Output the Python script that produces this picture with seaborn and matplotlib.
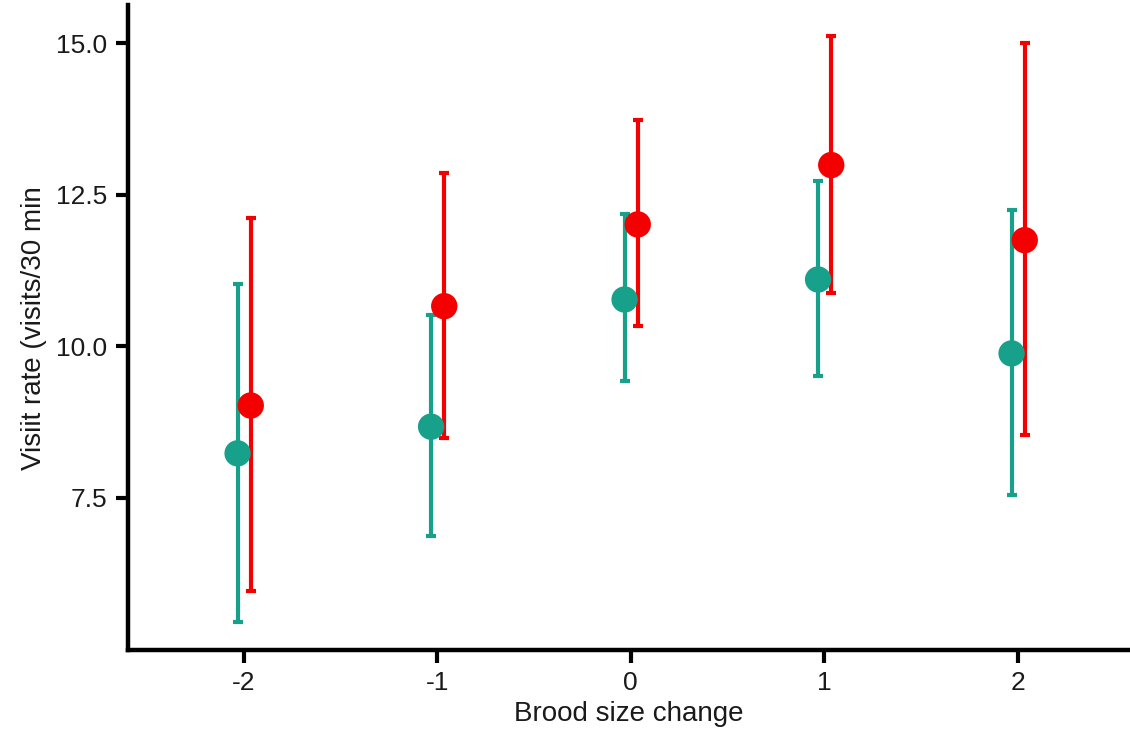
import matplotlib
matplotlib.use("Agg")
import matplotlib.pyplot as plt
import numpy as np
import pandas as pd
import seaborn as sns

# Brood size manipulation vs. provisioning visit rate, two groups
brood_change = [-2, -1, 0, 1, 2]

teal_mean = [8.23, 8.67, 10.77, 11.10, 9.88]
teal_low = [5.45, 6.87, 9.42, 9.50, 7.55]
teal_high = [11.02, 10.52, 12.19, 12.72, 12.24]

red_mean = [9.02, 10.66, 12.01, 12.99, 11.75]
red_low = [5.96, 8.48, 10.33, 10.87, 8.54]
red_high = [12.11, 12.86, 13.73, 15.12, 15.00]

groups = ["A", "B"]
colors = {"A": "#17a08a", "B": "#f50000"}
dodge = {"A": -0.032, "B": 0.036}

frames = []
for g, m, lo, hi in [("A", teal_mean, teal_low, teal_high),
                     ("B", red_mean, red_low, red_high)]:
    frames.append(pd.DataFrame({"change": brood_change, "rate": m,
                                "low": lo, "high": hi, "group": g}))
df = pd.concat(frames, ignore_index=True)
df["xpos"] = df["change"] + df["group"].map(dodge)

sns.set_theme(style="ticks")
plt.rcParams["font.family"] = ["Liberation Sans", "DejaVu Sans"]

fig = plt.figure(figsize=(11.3, 7.38), dpi=100)
ax = fig.add_axes([0.113, 0.119, 0.887, 0.874])

for g in groups:
    sub = df[df["group"] == g]
    ax.errorbar(sub["xpos"], sub["rate"],
                yerr=[sub["rate"] - sub["low"], sub["high"] - sub["rate"]],
                fmt="none", ecolor=colors[g], elinewidth=3.0,
                capsize=3.5, capthick=3.0, zorder=2)
    sns.scatterplot(data=sub, x="xpos", y="rate", color=colors[g],
                    s=360, edgecolor="none", linewidth=0, ax=ax,
                    legend=False, zorder=3)

ax.set_xlim(-2.6, 2.58)
ax.set_ylim(4.98, 15.63)
ax.set_xticks(brood_change)
ax.set_xticklabels([str(v) for v in brood_change])
ax.set_yticks([7.5, 10.0, 12.5, 15.0])
ax.set_yticklabels(["7.5", "10.0", "12.5", "15.0"])

ax.set_xlabel("Brood size change", fontsize=20, color="#1a1a1a", labelpad=4)
ax.set_ylabel("Visiit rate (visits/30 min", fontsize=20, color="#1a1a1a", labelpad=6)

for side in ["left", "bottom"]:
    ax.spines[side].set_linewidth(3.2)
    ax.spines[side].set_color("black")
sns.despine(ax=ax)
ax.tick_params(axis="both", length=9, width=3, color="black",
               labelsize=19, labelcolor="#1a1a1a", pad=6)

fig.savefig("out.png", dpi=100, facecolor="white")
